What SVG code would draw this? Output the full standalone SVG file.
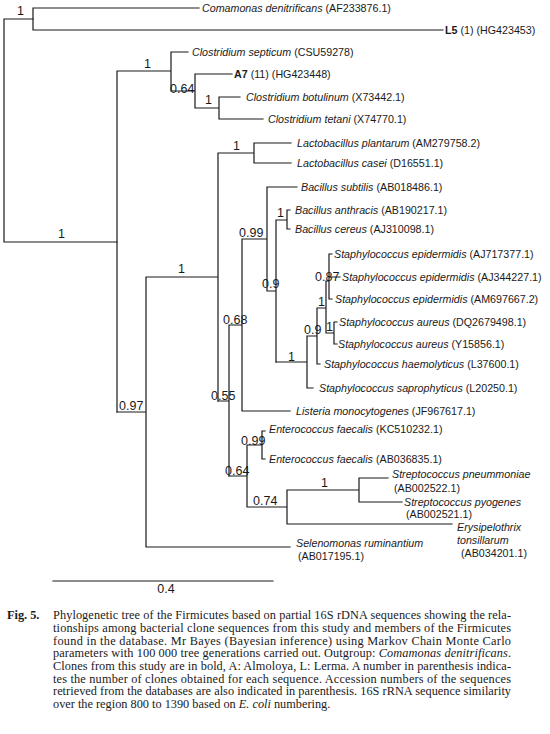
<svg xmlns="http://www.w3.org/2000/svg" width="550" height="734" viewBox="0 0 550 734">
<style>
.br{fill:none;stroke:#1a1a1a;stroke-width:1.2;stroke-linecap:square}
.tx{font-family:"Liberation Sans",Arial,sans-serif;font-size:10.7px;fill:#1a1a1a}
.it{font-style:italic}
.b{font-weight:bold}
.sup{font-family:"Liberation Sans",Arial,sans-serif;font-size:12.5px;fill:#1a1a1a}
.cap{font-family:"Liberation Serif","Times New Roman",serif;font-size:12.3px;fill:#1a1a1a}
</style>
<rect width="550" height="734" fill="#ffffff"/>
<g id="connectors" class="br">
<path d="M4,19V242M4,19H33M4,242H117"/>
<path d="M33,8V30M33,8H199M33,30H443"/>
<path d="M117,71V412M117,71H171M171,52V91M171,52H188M171,91H195M195,74V108M195,74H232M195,108H219M219,97V119M219,97H240M219,119H263"/>
<path d="M117,412H146M146,277V547M146,547H290M146,277H218M218,153V401M218,153H254M254,143V163M254,143H291M254,163H291"/>
<path d="M218,401H229M229,325V476M229,325H242M242,239V411M242,411H290M242,239H267M267,187V291M267,187H297M267,291H276M276,220V362M276,220H287M287,210V229M287,210H290M287,229H290"/>
<path d="M276,362H307M307,336V388M307,388H313M307,336H317M317,308V364M317,364H320M317,308H326M326,281V333M326,333H334M334,322V344M334,322H337M334,344H337M326,281H329M329,254V299M329,254H332M329,277H340M329,299H332"/>
<path d="M229,476H247M247,445V507M247,445H262M262,431V459M262,431H265M262,459H265M247,507H287M287,490V524M287,524H452M287,490H359M359,478V502M359,478H388M359,502H402"/>
<path d="M53,581H273"/>
</g>
<g id="leaves" class="tx">
<g id="n-comamonas"><text x="202" y="12"><tspan class="it">Comamonas denitrificans</tspan> (AF233876.1)</text></g>
<g id="n-L5"><text x="445" y="34"><tspan class="b">L5</tspan> (1) (HG423453)</text></g>
<g id="n-septicum"><text x="192" y="56"><tspan class="it">Clostridium septicum</tspan> (CSU59278)</text></g>
<g id="n-A7"><text x="234" y="78"><tspan class="b">A7</tspan> (11) (HG423448)</text></g>
<g id="n-botulinum"><text x="246" y="101"><tspan class="it">Clostridium botulinum</tspan> (X73442.1)</text></g>
<g id="n-tetani"><text x="268" y="123"><tspan class="it">Clostridium tetani</tspan> (X74770.1)</text></g>
<g id="n-plantarum"><text x="297" y="147"><tspan class="it">Lactobacillus plantarum</tspan> (AM279758.2)</text></g>
<g id="n-casei"><text x="297" y="167"><tspan class="it">Lactobacillus casei</tspan> (D16551.1)</text></g>
<g id="n-subtilis"><text x="301" y="191"><tspan class="it">Bacillus subtilis</tspan> (AB018486.1)</text></g>
<g id="n-anthracis"><text x="295" y="214"><tspan class="it">Bacillus anthracis</tspan> (AB190217.1)</text></g>
<g id="n-cereus"><text x="295" y="233"><tspan class="it">Bacillus cereus</tspan> (AJ310098.1)</text></g>
<g id="n-epi1"><text x="334" y="258"><tspan class="it">Staphylococcus epidermidis</tspan> (AJ717377.1)</text></g>
<g id="n-epi2"><text x="342" y="281"><tspan class="it">Staphylococcus epidermidis</tspan> (AJ344227.1)</text></g>
<g id="n-epi3"><text x="335" y="303"><tspan class="it">Staphylococcus epidermidis</tspan> (AM697667.2)</text></g>
<g id="n-aureus1"><text x="339" y="326"><tspan class="it">Staphylococcus aureus</tspan> (DQ2679498.1)</text></g>
<g id="n-aureus2"><text x="338" y="348"><tspan class="it">Staphylococcus aureus</tspan> (Y15856.1)</text></g>
<g id="n-haemolyticus"><text x="324" y="368"><tspan class="it">Staphylococcus haemolyticus</tspan> (L37600.1)</text></g>
<g id="n-saprophyticus"><text x="319" y="392"><tspan class="it">Staphylococcus saprophyticus</tspan> (L20250.1)</text></g>
<g id="n-listeria"><text x="296" y="415"><tspan class="it">Listeria monocytogenes</tspan> (JF967617.1)</text></g>
<g id="n-faecalis1"><text x="269" y="433"><tspan class="it">Enterococcus faecalis</tspan> (KC510232.1)</text></g>
<g id="n-faecalis2"><text x="269" y="463"><tspan class="it">Enterococcus faecalis</tspan> (AB036835.1)</text></g>
<g id="n-pneumoniae"><text x="392" y="478" class="it">Streptococcus pneummoniae</text><text x="394" y="492">(AB002522.1)</text></g>
<g id="n-pyogenes"><text x="404" y="506" class="it">Streptococcus pyogenes</text><text x="406" y="518">(AB002521.1)</text></g>
<g id="n-erysipelothrix"><text x="457" y="531" class="it">Erysipelothrix</text><text x="457" y="544" class="it">tonsillarum</text><text x="461" y="557">(AB034201.1)</text></g>
<g id="n-selenomonas"><text x="296" y="547" class="it">Selenomonas ruminantium</text><text x="298" y="560">(AB017195.1)</text></g>
</g>
<g id="support" class="sup">
<text x="17" y="15">1</text>
<text x="144" y="68">1</text>
<text x="170" y="93">0.64</text>
<text x="205" y="104">1</text>
<text x="58" y="238">1</text>
<text x="233" y="150">1</text>
<text x="239" y="237">0.99</text>
<text x="178" y="273">1</text>
<text x="277" y="217">1</text>
<text x="262" y="288">0.9</text>
<text x="315" y="281">0.87</text>
<text x="318" y="306">1</text>
<text x="326" y="331">1</text>
<text x="304" y="334">0.9</text>
<text x="288" y="361">1</text>
<text x="223" y="324">0.68</text>
<text x="211" y="400">0.55</text>
<text x="119" y="410">0.97</text>
<text x="241" y="445">0.99</text>
<text x="225" y="475">0.64</text>
<text x="253" y="505">0.74</text>
<text x="321" y="487">1</text>
</g>
<g id="scale"><text class="sup" x="166" y="593" text-anchor="middle">0.4</text></g>
<g id="caption" class="cap">
<text x="7" y="619" font-weight="bold">Fig. 5.</text>
<text x="53" y="619" textLength="458" lengthAdjust="spacing">Phylogenetic tree of the Firmicutes based on partial 16S rDNA sequences showing the rela-</text>
<text x="53" y="632" textLength="458" lengthAdjust="spacing">tionships among bacterial clone sequences from this study and members of the Firmicutes</text>
<text x="53" y="644.5" textLength="458" lengthAdjust="spacing">found in the database. Mr Bayes (Bayesian inference) using Markov Chain Monte Carlo</text>
<text x="53" y="657" textLength="458" lengthAdjust="spacing">parameters with 100 000 tree generations carried out. Outgroup: <tspan font-style="italic">Comamonas denitrificans</tspan>.</text>
<text x="53" y="670" textLength="458" lengthAdjust="spacing">Clones from this study are in bold, A: Almoloya, L: Lerma. A number in parenthesis indica-</text>
<text x="53" y="682.5" textLength="458" lengthAdjust="spacing">tes the number of clones obtained for each sequence. Accession numbers of the sequences</text>
<text x="53" y="695" textLength="458" lengthAdjust="spacing">retrieved from the databases are also indicated in parenthesis. 16S rRNA sequence similarity</text>
<text x="53" y="708">over the region 800 to 1390 based on <tspan font-style="italic">E. coli</tspan> numbering.</text>
</g>
</svg>
